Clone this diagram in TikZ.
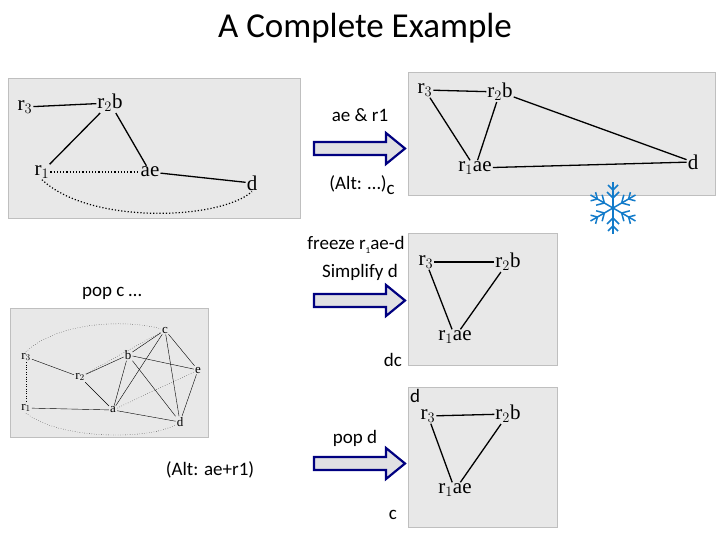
\documentclass[tikz,border=0pt]{standalone}
\usepackage{fontspec}
\setmainfont{Carlito}
\newfontfamily\scan{Liberation Serif}
\begin{document}
\begin{tikzpicture}[x=1pt,y=-1pt,
 img/.style={fill=black!9,draw=black!25},
 gn/.style={font=\scan\fontsize{21}{21}\selectfont,inner sep=1pt},
 sn/.style={font=\scan\fontsize{13}{13}\selectfont,inner sep=1pt},
 ed/.style={line width=1.3pt},
 dt/.style={line width=1.2pt,dotted},
 lab/.style={font=\fontsize{19}{19}\selectfont,inner sep=1pt},
 barrow/.style={fill=blue!8!black!12,draw=blue!50!black,line width=2.2pt,line join=miter}]
\useasboundingbox (0,0) rectangle (720,540);
\fill[white] (0,0) rectangle (720,540);
\node[font=\fontsize{35}{35}\selectfont] (title) at (365,28) {A Complete Example};
% image 1
\path[img] (8,78) rectangle (300,218);
\node[gn] (a3) at (25,107) {r$_3$};
\node[gn] (a2) at (110,103) {r$_2$b};
\node[gn] (a1) at (42,172) {r$_1$};
\node[gn] (aae) at (150,172) {ae};
\node[gn] (ad) at (252,183) {d};
\draw[ed] (a3)--(a2); \draw[ed] (a2)--(a1); \draw[ed] (a2)--(aae); \draw[ed] (aae)--(ad);
\draw[dt] (a1)--(aae);
\draw[dt] (a1.south) .. controls (90,225) and (220,220) .. (ad.south);
% arrow 1
\draw[barrow] (314,142)--(386,142)--(386,133)--(405,148.5)--(386,164)--(386,155)--(314,155)--cycle;
\node[lab] (t1) at (360,115) {ae \& r1};
\node[lab] (t2) at (362,185) {(Alt: \dots)\raisebox{-5pt}{c}};
% image 2
\path[img] (408,72) rectangle (715,195);
\node[gn] (b3) at (425,90) {r$_3$};
\node[gn] (b2) at (500,92) {r$_2$b};
\node[gn] (b1) at (475,168) {r$_1$ae};
\node[gn] (bd) at (693,162) {d};
\draw[ed] (b3)--(b2); \draw[ed] (b3)--(b1); \draw[ed] (b2)--(b1); \draw[ed] (b2)--(bd); \draw[ed] (b1)--(bd);
% snowflake
\begin{scope}[shift={(613,208)},draw=cyan!60!blue,line width=1.5pt]
\foreach \a in {0,60,...,300}{
 \draw[rotate=\a] (0,0)--(0,-26);
 \draw[rotate=\a] (0,-10)--(-6,-16) (0,-10)--(6,-16);
 \draw[rotate=\a] (0,-18)--(-5,-23) (0,-18)--(5,-23);}
\end{scope}
% middle
\node[lab] (t3) at (356,245) {freeze r\raisebox{-4pt}{\small 1}ae-d};
\node[lab] (t4) at (360,272) {Simplify d};
\node[lab] (t5) at (112,293) {pop c \dots};
\draw[barrow] (314,294)--(386,294)--(386,285)--(405,300.5)--(386,316)--(386,307)--(314,307)--cycle;
\path[img] (408,233) rectangle (557,365);
\node[gn] (c3) at (426,262) {r$_3$};
\node[gn] (c2) at (508,262) {r$_2$b};
\node[gn] (c1) at (455,337) {r$_1$ae};
\draw[ed] (c3)--(c2); \draw[ed] (c3)--(c1); \draw[ed] (c2)--(c1);
\node[lab] (t6) at (393,360) {dc};
% image 4
\path[img] (10,308) rectangle (208,437);
\node[sn] (dc) at (165,330) {c};
\node[sn] (d3) at (26,357) {r$_3$};
\node[sn] (d2) at (80,377) {r$_2$};
\node[sn] (db) at (128,355) {b};
\node[sn] (de) at (198,370) {e};
\node[sn] (d1) at (26,408) {r$_1$};
\node[sn] (da) at (113,410) {a};
\node[sn] (dd) at (180,422) {d};
\draw (d3)--(d2); \draw (d2)--(db); \draw (d2)--(da); \draw (db)--(da); \draw (db)--(dc);
\draw (db)--(dd); \draw (dc)--(da); \draw (dc)--(de); \draw (dc)--(dd); \draw (db)--(de);
\draw (da)--(dd); \draw (d1)--(da); \draw (de)--(dd);
\draw[dotted] (d2)--(dc); \draw[dotted] (da)--(de); \draw[dotted] (d3)--(d1);
\draw[dotted] (d3.north) .. controls (60,320) and (130,320) .. (dc);
\draw[dotted] (d1.south) .. controls (60,440) and (150,440) .. (dd);
% bottom
\draw[barrow] (314,457)--(386,457)--(386,448)--(405,463.5)--(386,479)--(386,470)--(314,470)--cycle;
\node[lab] (t7) at (355,438) {pop d};
\node[lab] (t8) at (210,470) {(Alt: ae+r1)};
\path[img] (408,387) rectangle (557,527);
\node[gn] (e3) at (428,416) {r$_3$};
\node[gn] (e2) at (508,414) {r$_2$b};
\node[gn] (e1) at (455,490) {r$_1$ae};
\draw[ed] (e3)--(e2); \draw[ed] (e3)--(e1); \draw[ed] (e2)--(e1);
\node[lab] (t9) at (415,396) {d};
\node[lab] (t10) at (393,515) {c};
\end{tikzpicture}
\end{document}
